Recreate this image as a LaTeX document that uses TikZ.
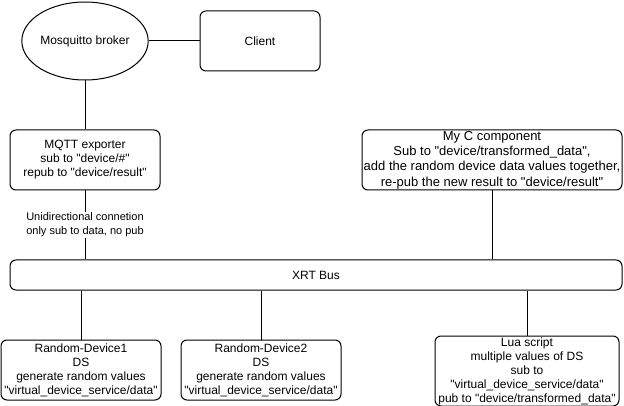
\documentclass[tikz,border=0pt]{standalone}
\usepackage{fontspec}
\setmainfont{Liberation Sans}[Ligatures=TeXOff]
\usetikzlibrary{shapes.geometric}
\tikzset{
  box/.style={draw, rounded corners=6pt, align=center, inner sep=0pt,
    font=\fontsize{12}{14}\selectfont},
  devbox/.style={box, minimum width=160pt, minimum height=60pt},
  linklabel/.style={fill=white, align=center, inner sep=1pt,
    font=\fontsize{11}{14}\selectfont},
}
\begin{document}
\begin{tikzpicture}[x=1pt, y=-1pt, line width=1pt]
\useasboundingbox (0,0) rectangle (624,406);

%broker / client
\node[draw, ellipse, minimum width=120pt, minimum height=78pt, inner sep=0pt,
  font=\fontsize{12}{14}\selectfont] (broker) at (85,41) {Mosquitto broker};
\node[box, minimum width=120pt, minimum height=60pt] (client) at (260,41) {Client};
\draw (broker) -- (client);

%exporter
\node[box, minimum width=150pt, minimum height=60pt] (exporter) at (85,160)
  {MQTT exporter\\sub to "device/\#"\\repub to "device/result"};
\draw (broker) -- (exporter);

%C component
\node[box, minimum width=260pt, minimum height=60pt, font=\fontsize{13}{15.3}\selectfont]
  (ccomp) at (492,160)
  {My C component\\Sub to "device/transformed\_data",\\add the random device data values together,\\re-pub the new result to "device/result"};

%bus
\node[box, minimum width=612pt, minimum height=30pt] (bus) at (316,275) {XRT Bus};
\draw (exporter) -- node[linklabel] {Unidirectional connetion\\only sub to data, no pub} (exporter |- bus.north);
\draw (ccomp) -- (ccomp |- bus.north);

%devices
\node[devbox] (dev1) at (81,370)
  {Random-Device1\\DS\\generate random values\\"virtual\_device\_service/data"};
\node[devbox] (dev2) at (261,370)
  {Random-Device2\\DS\\generate random values\\"virtual\_device\_service/data"};
\node[box, minimum width=184pt, minimum height=70pt] (lua) at (527,371)
  {Lua script\\multiple values of DS\\sub to\\"virtual\_device\_service/data"\\pub to "device/transformed\_data"};
\draw (bus.south -| dev1) -- (dev1);
\draw (bus.south -| dev2) -- (dev2);
\draw (bus.south -| lua) -- (lua);
\end{tikzpicture}
\end{document}
